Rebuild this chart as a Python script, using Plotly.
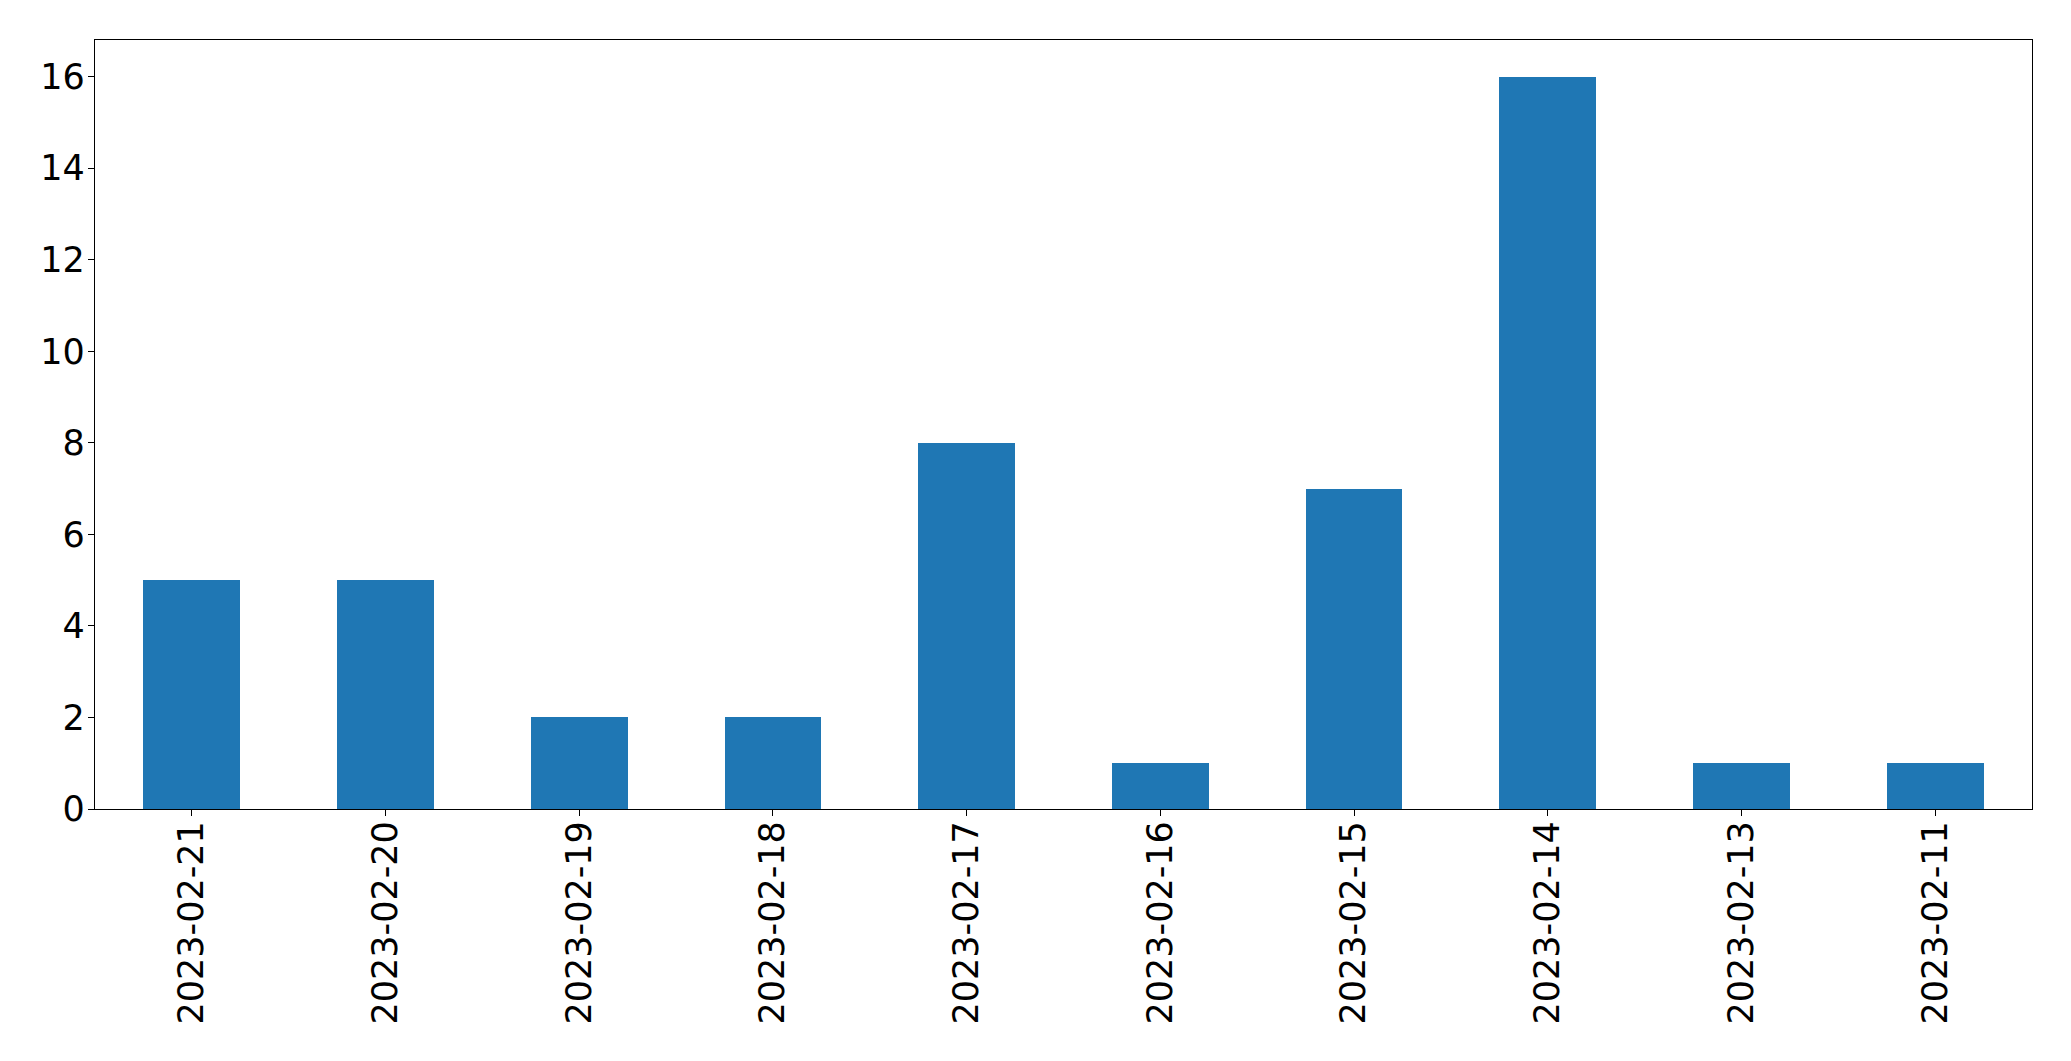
import plotly.graph_objects as go

dates = ["2023-02-21", "2023-02-20", "2023-02-19", "2023-02-18", "2023-02-17",
         "2023-02-16", "2023-02-15", "2023-02-14", "2023-02-13", "2023-02-11"]
counts = [5, 5, 2, 2, 8, 1, 7, 16, 1, 1]
y_ticks = [0, 2, 4, 6, 8, 10, 12, 14, 16]

fig = go.Figure(go.Bar(x=dates, y=counts, width=0.5, marker=dict(color="#1f77b4", line=dict(width=0))))

# page body has an 8px default margin; compensate so the plot area lands where the reference has it
fig.update_layout(
    width=2063, height=1053,
    margin=dict(l=86.5, r=39, t=31.5, b=252, pad=0),
    paper_bgcolor="white", plot_bgcolor="white",
    font=dict(family="DejaVu Sans", size=35, color="black"),
    showlegend=False,
    bargap=0,
)
fig.update_xaxes(
    type="category", range=[-0.5, 9.5], tickangle=-90, automargin=False,
    showline=True, linecolor="black", linewidth=1.3, mirror=True,
    ticks="outside", ticklen=6, tickwidth=1.3, tickcolor="black",
    showgrid=False, zeroline=False, ticklabelstandoff=-9,
)
fig.update_yaxes(
    range=[0, 16.8], tickvals=y_ticks, automargin=False,
    showline=True, linecolor="black", linewidth=1.3, mirror=True,
    ticks="outside", ticklen=6, tickwidth=1.3, tickcolor="black",
    showgrid=False, zeroline=False, ticklabelstandoff=-4,
)
fig.write_html("out.html")
